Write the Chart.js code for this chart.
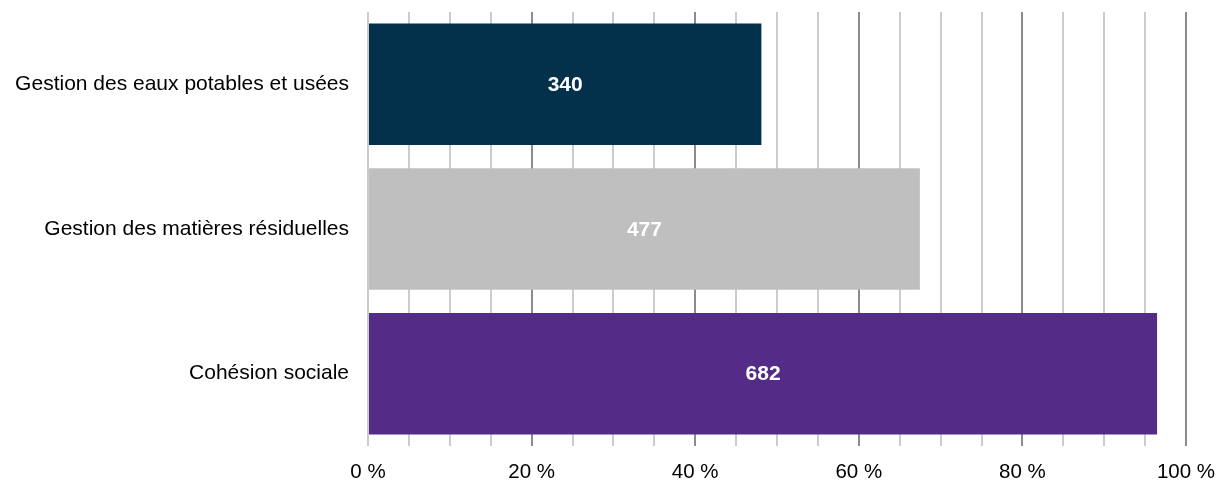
<!DOCTYPE html>
<html>
<head>
<meta charset="utf-8">
<script src="https://cdn.jsdelivr.net/npm/chart.js@4/dist/chart.umd.min.js"></script>
<style>
  html, body { margin: 0; padding: 0; background: #fff; }
  #wrap { width: 1220px; height: 481px; }
</style>
</head>
<body>
<div id="wrap"><canvas id="themes-chart" width="1220" height="481"></canvas></div>
<script>
const categories = ['Gestion des eaux potables et usées', 'Gestion des matières résiduelles', 'Cohésion sociale'];
const counts = [340, 477, 682];
const totalRespondents = 707;
const barColors = ['#03304a', '#bfbfbf', '#542c87'];

// share of respondents, in percent
const shares = counts.map(n => n / totalRespondents * 100);

const FONT = 'Liberation Sans, Arial, sans-serif';

// white count written in the middle of each bar
const countLabels = {
  id: 'countLabels',
  afterDatasetsDraw(chart) {
    const c = chart.ctx;
    const meta = chart.getDatasetMeta(0);
    c.save();
    c.fillStyle = '#fff';
    c.font = 'bold 21px ' + FONT;
    c.textAlign = 'center';
    c.textBaseline = 'middle';
    meta.data.forEach((bar, i) => {
      c.fillText(String(counts[i]), (bar.x + bar.base) / 2, bar.y + 1);
    });
    c.restore();
  }
};

const ctx = document.getElementById('themes-chart').getContext('2d');
const themesChart = new Chart(ctx, {
  type: 'bar',
  data: {
    labels: categories,
    datasets: [{
      data: shares,
      backgroundColor: barColors,
      categoryPercentage: 0.84,
      barPercentage: 1
    }]
  },
  options: {
    indexAxis: 'y',
    responsive: false,
    animation: false,
    layout: { padding: { top: 12, right: 34, left: 0, bottom: 0 } },
    plugins: {
      legend: { display: false },
      tooltip: { enabled: false }
    },
    scales: {
      x: {
        min: 0,
        max: 100,
        afterFit(scale) {
          scale.height = 35;
          scale.paddingLeft = 0;
          scale.paddingRight = 0;
        },
        border: { display: false },
        grid: {
          drawTicks: false,
          lineWidth: 2,
          color: c => (c.tick && c.tick.value % 20 === 0 && c.tick.value !== 0) ? '#8c8c8c' : '#cccccc'
        },
        ticks: {
          stepSize: 5,
          autoSkip: false,
          maxRotation: 0,
          padding: 14,
          color: '#000',
          font: { family: FONT, size: 20.5 },
          callback: v => (v % 20 === 0 ? v + ' %' : '')
        }
      },
      y: {
        afterFit(scale) {
          scale.width = 368;
          scale.paddingTop = 0;
          scale.paddingBottom = 0;
        },
        border: { display: false },
        grid: { display: false, drawTicks: false },
        ticks: {
          padding: 19,
          color: '#000',
          font: { family: FONT, size: 21 }
        }
      }
    }
  },
  plugins: [countLabels]
});
</script>
</body>
</html>
